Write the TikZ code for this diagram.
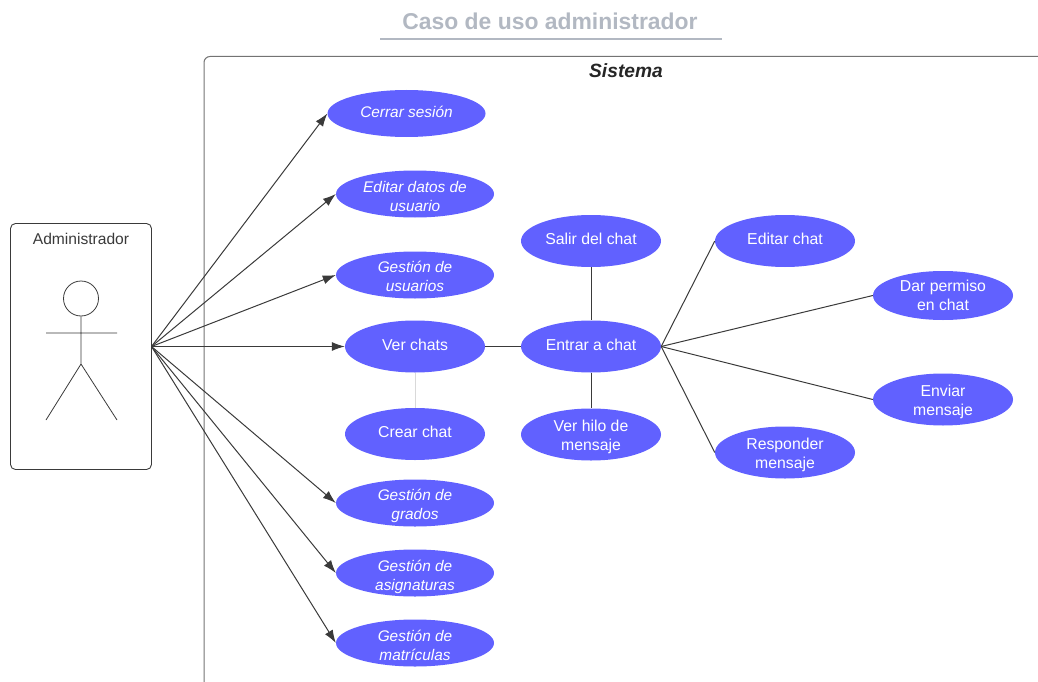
\documentclass[tikz,border=0pt]{standalone}
\usepackage{fontspec}
\setmainfont{Liberation Sans}
\usetikzlibrary{shapes.geometric,arrows.meta}
\definecolor{uc}{HTML}{6161FF}
\definecolor{ln}{HTML}{3A3A3A}
\definecolor{ttl}{HTML}{B2B8C2}
\newcommand\tx[2]{\raisebox{#1}[0pt][0pt]{\begin{tabular}{@{}c@{}}#2\end{tabular}}}
\tikzset{
 x=1pt,y=-1pt,
 uc/.style={ellipse,fill=uc,text=white,inner sep=0pt,font=\fontsize{15.8}{19}\selectfont,minimum width=140pt,minimum height=52pt},
 ucw/.style={uc,font=\fontsize{15.4}{19}\selectfont\itshape,minimum width=158pt,minimum height=47pt},
 frame/.style={draw=ln,line width=.9pt},
 sysframe/.style={draw=black!55,line width=1pt},
 link/.style={draw=ln,line width=1pt},
 arr/.style={link,-{Latex[length=13pt,width=9pt]}},
 fig/.style={draw=ln,line width=.8pt}
}
\begin{document}
\begin{tikzpicture}
\useasboundingbox (0,0) rectangle (1038,682);
% title
\node[text=ttl,font=\fontsize{22.9}{26}\selectfont\bfseries] (title) at (550,21) {Caso de uso administrador};
\coordinate (tl) at (380,39); \coordinate (tr) at (722,39);
\draw[draw=ttl,line width=1.2pt] (tl) -- (tr);
% system frame
\draw[sysframe] (1038,56.5) -- (210,56.5) arc[start angle=90,end angle=180,x radius=6,y radius=-6] -- (204,682);
\node[font=\fontsize{19.2}{22}\selectfont\bfseries\itshape,text=black!85] (sis) at (626,70.5) {Sistema};
% actor
\draw[frame,rounded corners=5pt] (10.5,223.5) rectangle (151.5,469.5);
\node[font=\fontsize{15.6}{18}\selectfont,text=ln] (adm) at (81,239) {Administrador};
\node[circle,fig,minimum size=35pt,inner sep=0pt] (head) at (81,298.5) {};
\coordinate (hip) at (81,364);
\coordinate (al) at (46,333); \coordinate (ar) at (117,333);
\coordinate (fl) at (46,420); \coordinate (fr) at (117,420);
\draw[fig] (head) -- (hip) (al) -- (ar) (fl) -- (hip) -- (fr);
\coordinate (hub) at (151.5,346.5);
% use cases
\node[ucw] (cerrar) at (406.5,113.5) {\tx{-4pt}{Cerrar sesión}};
\node[ucw] (datos) at (415,194) {\tx{-8pt}{Editar datos de\\usuario}};
\node[ucw] (usu) at (415,275) {\tx{-7pt}{Gestión de\\usuarios}};
\node[uc] (ver) at (415,346.5) {\tx{-3.5pt}{Ver chats}};
\node[uc] (crear) at (415,434) {\tx{-3.5pt}{Crear chat}};
\node[ucw] (grad) at (415,503) {\tx{-7pt}{Gestión de\\grados}};
\node[ucw] (asig) at (415,573) {\tx{-8pt}{Gestión de\\asignaturas}};
\node[ucw] (mat) at (415,643) {\tx{-8pt}{Gestión de\\matrículas}};
\node[uc] (entrar) at (591,346.5) {\tx{-3.5pt}{Entrar a chat}};
\node[uc] (salir) at (591,241) {\tx{-3.5pt}{Salir del chat}};
\node[uc] (hilo) at (591,434.5) {\tx{-6pt}{Ver hilo de\\mensaje}};
\node[uc] (edit) at (785,241) {\tx{-3.5pt}{Editar chat}};
\node[uc,minimum height=49pt] (dar) at (943,295.5) {\tx{-5.5pt}{Dar permiso\\en chat}};
\node[uc] (env) at (943,399.5) {\tx{-6pt}{Enviar\\mensaje}};
\node[uc] (resp) at (785,452.5) {\tx{-6pt}{Responder\\mensaje}};
% connectors
\foreach \t in {cerrar,datos,usu,ver,grad,asig,mat}
  \draw[arr] (hub) -- (\t.west);
\draw[link] (ver) -- (entrar);
\draw[draw=black!15,line width=.9pt] (ver) -- (crear);
\draw[link] (salir) -- (entrar);
\draw[link] (entrar) -- (hilo);
\foreach \t in {edit,dar,env,resp}
  \draw[link] (entrar.east) -- (\t.west);
\end{tikzpicture}
\end{document}
